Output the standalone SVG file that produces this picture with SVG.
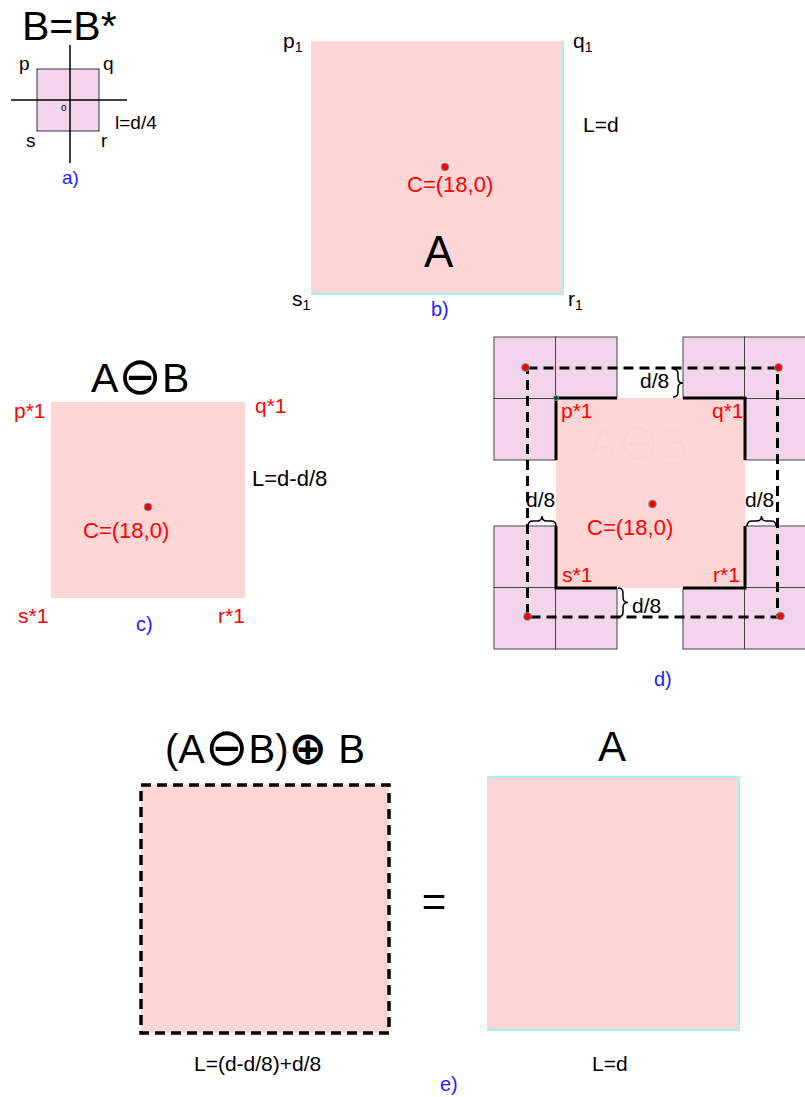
<svg xmlns="http://www.w3.org/2000/svg" width="805" height="1097" viewBox="0 0 805 1097">
<style>
text{font-family:"Liberation Sans",Arial,"DejaVu Sans",sans-serif}
.k{fill:#000}
.r{fill:#ff0000}
.b{fill:#1f1fff}
.lab{font-size:21px}
.pink{fill:#ffd6d6}
.cell{fill:#f2d5ec;stroke:#444;stroke-width:1}
.thick{fill:none;stroke:#000;stroke-width:3}
.dash{fill:none;stroke:#000;stroke-width:3;stroke-dasharray:10 6}
.brace{fill:none;stroke:#000;stroke-width:1.5}
.dot{fill:#ff0000;stroke:#4cc;stroke-width:0.8}
.cy{stroke:#a8f0f0;stroke-width:2}
.sym{font-family:"DejaVu Sans",sans-serif}
</style>

<g id="panel-a">
<text x="22" y="40" font-size="41" class="k">B=B*</text>
<rect x="37" y="69" width="62" height="62" fill="#f2d5ec" stroke="#333" stroke-width="1"/>
<line x1="70" y1="45" x2="70" y2="163" stroke="#000" stroke-width="1.5"/>
<line x1="11" y1="100" x2="127" y2="100" stroke="#000" stroke-width="1.5"/>
<text x="61" y="111" font-size="10" class="k">o</text>
<text x="19" y="70" font-size="19" class="k">p</text>
<text x="103" y="70" font-size="19" class="k">q</text>
<text x="26" y="147" font-size="19" class="k">s</text>
<text x="101" y="147" font-size="19" class="k">r</text>
<text x="115" y="129" font-size="19" class="k">l=d/4</text>
<text x="62" y="184" font-size="19" class="b">a)</text>
</g>

<g id="panel-b">
<rect x="311" y="41" width="252" height="253" class="pink"/>
<line x1="563" y1="41" x2="563" y2="294" class="cy"/>
<line x1="311" y1="294" x2="563" y2="294" class="cy"/>
<circle cx="445" cy="167" r="4" class="dot"/>
<text x="407" y="192" font-size="22" class="r">C=(18,0)</text>
<text x="424" y="267" font-size="44" class="k">A</text>
<text x="283" y="48" class="lab k">p<tspan font-size="14" dy="4">1</tspan></text>
<text x="573" y="48" class="lab k">q<tspan font-size="14" dy="4">1</tspan></text>
<text x="292" y="306" class="lab k">s<tspan font-size="14" dy="4">1</tspan></text>
<text x="568" y="306" class="lab k">r<tspan font-size="14" dy="4">1</tspan></text>
<text x="583" y="132" class="lab k">L=d</text>
<text x="431" y="316" font-size="20" class="b">b)</text>
</g>

<g id="panel-c">
<text x="91" y="392" font-size="41" class="k">A<tspan class="sym" font-size="52" dy="2">⊖</tspan><tspan dy="-2">B</tspan></text>
<rect x="51" y="402" width="194" height="196" class="pink"/>
<circle cx="148" cy="507" r="4" class="dot"/>
<text x="83" y="538" font-size="22" class="r">C=(18,0)</text>
<text x="14" y="418" class="lab r">p*1</text>
<text x="255" y="413" class="lab r">q*1</text>
<text x="18" y="623" class="lab r">s*1</text>
<text x="218" y="623" class="lab r">r*1</text>
<text x="252" y="486" font-size="22" class="k">L=d-d/8</text>
<text x="136" y="631" font-size="20" class="b">c)</text>
</g>

<g id="panel-d">
<g id="block-tl">
<rect x="494" y="337" width="61.5" height="61.5" class="cell"/>
<rect x="555.5" y="337" width="61.5" height="61.5" class="cell"/>
<rect x="494" y="398.5" width="61.5" height="61.5" class="cell"/>
<rect x="555.5" y="398.5" width="61.5" height="61.5" class="cell"/>
</g>
<g id="block-tr">
<rect x="683" y="337" width="61.5" height="61.5" class="cell"/>
<rect x="744.5" y="337" width="61.5" height="61.5" class="cell"/>
<rect x="683" y="398.5" width="61.5" height="61.5" class="cell"/>
<rect x="744.5" y="398.5" width="61.5" height="61.5" class="cell"/>
</g>
<g id="block-bl">
<rect x="494" y="526" width="61.5" height="61.5" class="cell"/>
<rect x="555.5" y="526" width="61.5" height="61.5" class="cell"/>
<rect x="494" y="587.5" width="61.5" height="61.5" class="cell"/>
<rect x="555.5" y="587.5" width="61.5" height="61.5" class="cell"/>
</g>
<g id="block-br">
<rect x="683" y="526" width="61.5" height="61.5" class="cell"/>
<rect x="744.5" y="526" width="61.5" height="61.5" class="cell"/>
<rect x="683" y="587.5" width="61.5" height="61.5" class="cell"/>
<rect x="744.5" y="587.5" width="61.5" height="61.5" class="cell"/>
</g>
<rect x="556" y="398" width="189" height="190" class="pink"/>
<text x="589" y="458" font-size="42" fill="#fdd2d2">A<tspan class="sym" font-size="52" dy="2">⊖</tspan><tspan dy="-2">B</tspan></text>
<path d="M556,460 V398 H617" class="thick"/>
<path d="M683,398 H745 V460" class="thick"/>
<path d="M556,526 V588 H617" class="thick"/>
<path d="M683,588 H745 V526" class="thick"/>
<rect x="527.5" y="368" width="250" height="249" class="dash"/>
<path d="M673,369 q5,0 5,5 v4 q0,5 5,5 q-5,0 -5,5 v4 q0,5 -5,5" class="brace"/>
<path d="M618,588 q5,0 5,5 v4.5 q0,5 5,5 q-5,0 -5,5 v4.5 q0,5 -5,5" class="brace"/>
<path d="M528,526 q0,-5 5,-5 h4 q5,0 5,-5 q0,5 5,5 h4 q5,0 5,5" class="brace"/>
<path d="M747,526 q0,-5 5,-5 h4.5 q5,0 5,-5 q0,5 5,5 h4.5 q5,0 5,5" class="brace"/>
<text x="640" y="388" font-size="21" class="k">d/8</text>
<text x="632" y="613" font-size="21" class="k">d/8</text>
<text x="526" y="507" font-size="21" class="k">d/8</text>
<text x="745" y="507" font-size="21" class="k">d/8</text>
<circle cx="525.5" cy="367.5" r="4" class="dot"/>
<circle cx="778.5" cy="367.5" r="4" class="dot"/>
<circle cx="527.5" cy="616.5" r="4" class="dot"/>
<circle cx="780.5" cy="616" r="4" class="dot"/>
<circle cx="556" cy="398" r="2.5" fill="#333" stroke="#4cc" stroke-width="0.8"/>
<circle cx="652.5" cy="504" r="4" class="dot"/>
<text x="587" y="535" font-size="22" class="r">C=(18,0)</text>
<text x="561" y="418" class="lab r">p*1</text>
<text x="712" y="418" class="lab r">q*1</text>
<text x="562" y="582" class="lab r">s*1</text>
<text x="713" y="582" class="lab r">r*1</text>
<text x="654" y="686" font-size="20" class="b">d)</text>
</g>

<g id="panel-e">
<text x="165" y="763" font-size="40" class="k">(A<tspan class="sym" font-size="52" dy="2">⊖</tspan><tspan dy="-2">B)</tspan><tspan class="sym" font-size="46" font-weight="bold" dy="1">⊕</tspan><tspan dy="-1"> B</tspan></text>
<rect x="141" y="785" width="248" height="248" class="pink" stroke="#000" stroke-width="3.5" stroke-dasharray="10 6"/>
<text x="434" y="916" font-size="42" text-anchor="middle" class="k">=</text>
<text x="612" y="761" font-size="42" text-anchor="middle" class="k">A</text>
<rect x="487" y="777" width="252" height="253" class="pink"/>
<line x1="487" y1="777" x2="739" y2="777" class="cy"/>
<line x1="739" y1="777" x2="739" y2="1030" class="cy"/>
<line x1="487" y1="1030" x2="739" y2="1030" class="cy"/>
<text x="194" y="1071" class="lab k">L=(d-d/8)+d/8</text>
<text x="592" y="1071" class="lab k">L=d</text>
<text x="440" y="1091" font-size="20" class="b">e)</text>
</g>
</svg>
